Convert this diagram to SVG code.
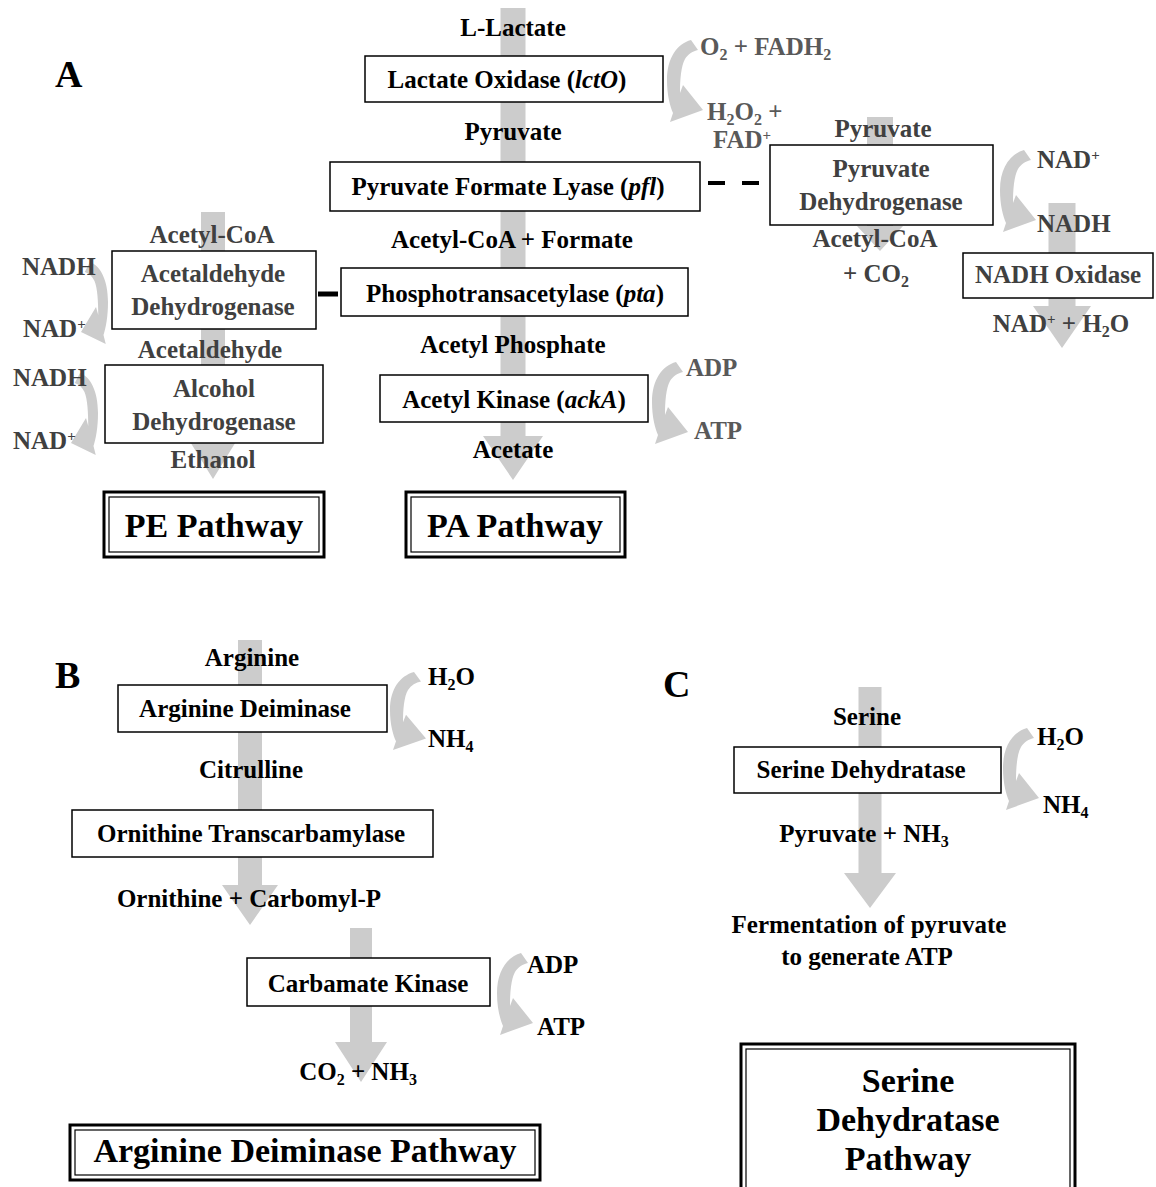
<svg xmlns="http://www.w3.org/2000/svg" xmlns:xlink="http://www.w3.org/1999/xlink" width="1156" height="1187" viewBox="0 0 1156 1187">
<style>
.t{font-family:"Liberation Serif","Times New Roman",serif;font-weight:bold;font-size:25px;text-anchor:middle;fill:#000}
.g{fill:#404040}
.m{fill:#595959}
.l{text-anchor:start}
.box{fill:#fff;stroke:#000;stroke-width:1.5}
.ttl{font-size:34px}
.pl{font-size:38px;text-anchor:start}
.arr{fill:#cccccc}
.sub{font-size:16px}
.sup{font-size:15px}
.it{font-style:italic}
.dbo{fill:#fff;stroke:#000;stroke-width:3}
.dbi{fill:none;stroke:#000;stroke-width:1.2}
</style>
<defs>
<path id="curv" d="M24,0 C10,4 0,18 0,40 C0,55 3,66 6,73 L3,82 L36,70 L16,45 L13,53 C13,40 14,26 18,19 C21,14 26,11 31,10 Z"/>
</defs>
<rect width="1156" height="1187" fill="#fff"/>

<g id="connectors">
  <polygon class="arr" points="500.5,8 525.5,8 525.5,436 543,436 513,480 483,436 500.5,436"/>
  <polygon class="arr" points="201,212 225,212 225,440 237,440 213,479 189,440 201,440"/>
  <polygon class="arr" points="867,117 893,117 893,226 903,226 880,251 857,226 867,226"/>
  <polygon class="arr" points="1048.5,203 1075.5,203 1075.5,306 1091,306 1062,348 1033,306 1048.5,306"/>
  <polygon class="arr" points="238,640 262,640 262,885 278,885 250,925 222,885 238,885"/>
  <polygon class="arr" points="350,928 372,928 372,1042 387,1042 361,1082 335,1042 350,1042"/>
  <polygon class="arr" points="858.5,687 881.5,687 881.5,873 896,873 870,908 844,873 858.5,873"/>
  <use xlink:href="#curv" class="arr" transform="translate(667,40)"/>
  <use xlink:href="#curv" class="arr" transform="translate(1000,150)"/>
  <use xlink:href="#curv" class="arr" transform="translate(652,362)"/>
  <use xlink:href="#curv" class="arr" transform="translate(108,262) scale(-0.75,1)"/>
  <use xlink:href="#curv" class="arr" transform="translate(98,373) scale(-0.75,1)"/>
  <use xlink:href="#curv" class="arr" transform="translate(390,672) scale(1,0.95)"/>
  <use xlink:href="#curv" class="arr" transform="translate(497,953)"/>
  <use xlink:href="#curv" class="arr" transform="translate(1003,728)"/>
  <line x1="708" y1="183" x2="760" y2="183" stroke="#000" stroke-width="4" stroke-dasharray="17 17"/>
  <line x1="318" y1="294" x2="338" y2="294" stroke="#000" stroke-width="5"/>
</g>

<g id="panel-labels">
  <text class="t pl" x="55" y="87">A</text>
  <text class="t pl" x="55" y="688">B</text>
  <text class="t pl" x="663" y="697">C</text>
</g>

<g id="m-llactate"><text class="t" x="513" y="36">L-Lactate</text></g>
<g id="e-lcto">
  <rect class="box" x="365" y="56" width="298" height="46"/>
  <text class="t" x="507" y="88">Lactate Oxidase (<tspan class="it">lctO</tspan>)</text>
</g>
<g id="m-pyruvate"><text class="t" x="513" y="140">Pyruvate</text></g>
<g id="e-pfl">
  <rect class="box" x="330" y="162" width="370" height="49"/>
  <text class="t" x="508" y="195">Pyruvate Formate Lyase (<tspan class="it">pfl</tspan>)</text>
</g>
<g id="m-acetylcoa-formate"><text class="t" x="512" y="248">Acetyl-CoA + Formate</text></g>
<g id="e-pta">
  <rect class="box" x="341" y="268" width="347" height="48"/>
  <text class="t" x="515" y="302">Phosphotransacetylase (<tspan class="it">pta</tspan>)</text>
</g>
<g id="m-acetylp"><text class="t" x="513" y="353">Acetyl Phosphate</text></g>
<g id="e-acka">
  <rect class="box" x="380" y="375" width="268" height="47"/>
  <text class="t" x="514" y="408">Acetyl Kinase (<tspan class="it">ackA</tspan>)</text>
</g>
<g id="m-acetate"><text class="t" x="513" y="458">Acetate</text></g>
<g id="c-lcto">
  <text class="t m l" x="700" y="55">O<tspan class="sub" dy="5">2</tspan><tspan dy="-5"> + FADH</tspan><tspan class="sub" dy="5">2</tspan></text>
  <text class="t m l" x="707" y="120">H<tspan class="sub" dy="5">2</tspan><tspan dy="-5">O</tspan><tspan class="sub" dy="5">2</tspan><tspan dy="-5"> +</tspan></text>
  <text class="t m l" x="713" y="148">FAD<tspan class="sup" dy="-8">+</tspan></text>
</g>
<g id="c-acka">
  <text class="t m l" x="686" y="376">ADP</text>
  <text class="t m l" x="694" y="439">ATP</text>
</g>
<g id="t-pa">
  <rect class="dbo" x="406" y="492" width="219" height="65"/>
  <rect class="dbi" x="411" y="497" width="209" height="55"/>
  <text class="t ttl" x="515" y="537">PA Pathway</text>
</g>

<g id="m-acetylcoa-pe"><text class="t g" x="212" y="243">Acetyl-CoA</text></g>
<g id="e-acdh">
  <rect class="box" x="112" y="251" width="204" height="78"/>
  <text class="t g" x="213" y="282">Acetaldehyde</text>
  <text class="t g" x="213" y="315">Dehydrogenase</text>
</g>
<g id="m-acetaldehyde"><text class="t g" x="210" y="358">Acetaldehyde</text></g>
<g id="e-adh">
  <rect class="box" x="105" y="365" width="218" height="78"/>
  <text class="t g" x="214" y="397">Alcohol</text>
  <text class="t g" x="214" y="430">Dehydrogenase</text>
</g>
<g id="m-ethanol"><text class="t g" x="213" y="468">Ethanol</text></g>
<g id="c-pe">
  <text class="t g l" x="22" y="275">NADH</text>
  <text class="t g l" x="23" y="337">NAD<tspan class="sup" dy="-8">+</tspan></text>
  <text class="t g l" x="13" y="386">NADH</text>
  <text class="t g l" x="13" y="449">NAD<tspan class="sup" dy="-8">+</tspan></text>
</g>
<g id="t-pe">
  <rect class="dbo" x="104" y="492" width="220" height="65"/>
  <rect class="dbi" x="109" y="497" width="210" height="55"/>
  <text class="t ttl" x="214" y="537">PE Pathway</text>
</g>

<g id="m-pyruvate-pdh"><text class="t g" x="883" y="137">Pyruvate</text></g>
<g id="e-pdh">
  <rect class="box" x="770" y="145" width="223" height="80"/>
  <text class="t g" x="881" y="177">Pyruvate</text>
  <text class="t g" x="881" y="210">Dehydrogenase</text>
</g>
<g id="m-acetylcoa-co2">
  <text class="t g" x="875" y="247">Acetyl-CoA</text>
  <text class="t g" x="876" y="282">+ CO<tspan class="sub" dy="5">2</tspan></text>
</g>
<g id="c-pdh">
  <text class="t g l" x="1037" y="168">NAD<tspan class="sup" dy="-8">+</tspan></text>
  <text class="t g l" x="1037" y="232">NADH</text>
</g>
<g id="e-nox">
  <rect class="box" x="963" y="253" width="190" height="45"/>
  <text class="t g" x="1058" y="283">NADH Oxidase</text>
</g>
<g id="m-nad-h2o"><text class="t g" x="1061" y="332">NAD<tspan class="sup" dy="-8">+</tspan><tspan dy="8"> + H</tspan><tspan class="sub" dy="5">2</tspan><tspan dy="-5">O</tspan></text></g>

<g id="m-arginine"><text class="t" x="252" y="666">Arginine</text></g>
<g id="e-adi">
  <rect class="box" x="118" y="685" width="269" height="47"/>
  <text class="t" x="245" y="717">Arginine Deiminase</text>
</g>
<g id="c-adi">
  <text class="t l" x="428" y="685">H<tspan class="sub" dy="5">2</tspan><tspan dy="-5">O</tspan></text>
  <text class="t l" x="428" y="747">NH<tspan class="sub" dy="5">4</tspan></text>
</g>
<g id="m-citrulline"><text class="t" x="251" y="778">Citrulline</text></g>
<g id="e-otc">
  <rect class="box" x="72" y="810" width="361" height="47"/>
  <text class="t" x="251" y="842">Ornithine Transcarbamylase</text>
</g>
<g id="m-ornithine"><text class="t" x="249" y="907">Ornithine + Carbomyl-P</text></g>
<g id="e-ck">
  <rect class="box" x="247" y="958" width="243" height="48"/>
  <text class="t" x="368" y="992">Carbamate Kinase</text>
</g>
<g id="c-ck">
  <text class="t l" x="527" y="973">ADP</text>
  <text class="t l" x="537" y="1035">ATP</text>
</g>
<g id="m-co2-nh3"><text class="t" x="358" y="1080">CO<tspan class="sub" dy="5">2</tspan><tspan dy="-5"> + NH</tspan><tspan class="sub" dy="5">3</tspan></text></g>
<g id="t-adi">
  <rect class="dbo" x="70" y="1125" width="470" height="55"/>
  <rect class="dbi" x="75" y="1130" width="460" height="45"/>
  <text class="t ttl" x="305" y="1162">Arginine Deiminase Pathway</text>
</g>

<g id="m-serine"><text class="t" x="867" y="725">Serine</text></g>
<g id="e-sd">
  <rect class="box" x="734" y="747" width="267" height="46"/>
  <text class="t" x="861" y="778">Serine Dehydratase</text>
</g>
<g id="c-sd">
  <text class="t l" x="1037" y="745">H<tspan class="sub" dy="5">2</tspan><tspan dy="-5">O</tspan></text>
  <text class="t l" x="1043" y="813">NH<tspan class="sub" dy="5">4</tspan></text>
</g>
<g id="m-pyr-nh3"><text class="t" x="864" y="842">Pyruvate + NH<tspan class="sub" dy="5">3</tspan></text></g>
<g id="m-fermentation">
  <text class="t" x="869" y="933">Fermentation of pyruvate</text>
  <text class="t" x="867" y="965">to generate ATP</text>
</g>
<g id="t-sd">
  <rect class="dbo" x="741" y="1044" width="334" height="160"/>
  <rect class="dbi" x="746" y="1049" width="324" height="150"/>
  <text class="t ttl" x="908" y="1092">Serine</text>
  <text class="t ttl" x="908" y="1131">Dehydratase</text>
  <text class="t ttl" x="908" y="1170">Pathway</text>
</g>
</svg>
